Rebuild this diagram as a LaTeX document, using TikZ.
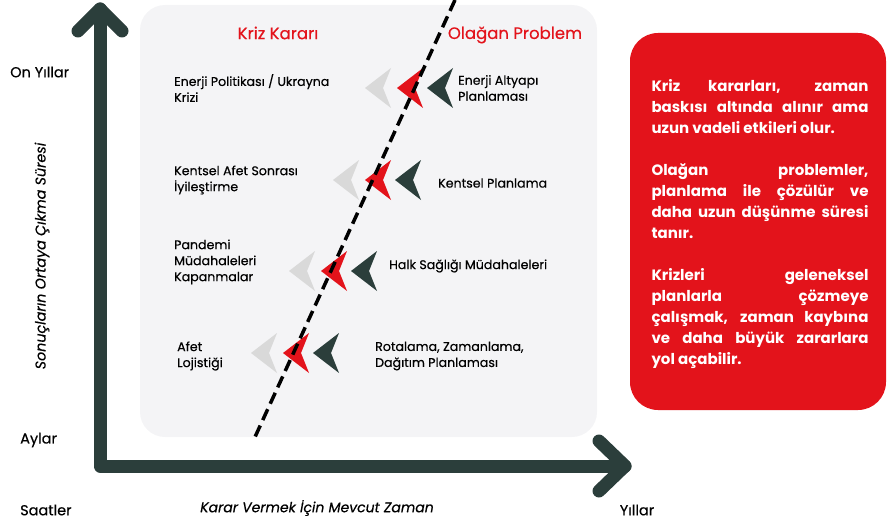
\documentclass[tikz,border=0pt]{standalone}
\usepackage{fontspec}
\setmainfont{Poppins}
\newfontfamily\medfont{Poppins}[FakeBold=0.4]
\usepackage{tikz}
\definecolor{axisdark}{HTML}{2B3E3B}
\definecolor{krizred}{HTML}{E3131B}
\definecolor{panelgray}{HTML}{F4F4F6}
\definecolor{chevgray}{HTML}{D9D9D9}

\begin{document}
\begin{tikzpicture}[x=1pt, y=-1pt]
    \tikzstyle{label} = [inner sep=0pt, font=\medfont\fontsize{12.6}{16}\selectfont, align=left, text=black]
    \tikzstyle{axislabel} = [inner sep=0pt, font=\medfont\fontsize{14.5}{16}\selectfont, text=black]
    \tikzstyle{heading} = [inner sep=0pt, font=\medfont\fontsize{16.5}{18}\selectfont, text=krizred]
    \tikzstyle{axis} = [draw=axisdark, line width=13pt, line cap=round, line join=round]
    \useasboundingbox (0,0) rectangle (887,527);
    % background panel
    \fill[panelgray, rounded corners=25pt] (140,5) rectangle (597,437);
    % axes
    \coordinate (O) at (100,466);
    \coordinate (ytip) at (100,9);
    \coordinate (xtip) at (625,466);
    \draw[axis] (ytip) -- (O) -- (xtip);
    \draw[axis] ([shift={(-22,22)}]ytip) -- (ytip) -- ([shift={(22,22)}]ytip);
    \draw[axis] ([shift={(-26,-25)}]xtip) -- (xtip) -- ([shift={(-26,25)}]xtip);
    % axis texts
    \node[axislabel, anchor=west] (decades) at (10,72) {On Yıllar};
    \node[axislabel, anchor=west] (months) at (20,440) {Aylar};
    \node[axislabel, anchor=west] (hours) at (20,510) {Saatler};
    \node[axislabel] (years) at (637,510) {Yıllar};
    \node[axislabel, rotate=90, font=\medfont\fontsize{14.3}{16}\selectfont\itshape] (ylab) at (42,256) {Sonuçların Ortaya Çıkma Süresi};
    \node[axislabel, font=\medfont\fontsize{14}{16}\selectfont\itshape] (xlab) at (317,508) {Karar Vermek İçin Mevcut Zaman};
    % headings
    \node[heading] (kriz) at (278,33) {Kriz Kararı};
    \node[heading] (olagan) at (515,35) {Olağan Problem};
    % chevrons: gray, red, dark
    \foreach \gx/\ry in {365/88, 333/180, 289/271, 251/353} {
        \fill[chevgray] (\gx,\ry) -- ++(26,-20) -- ++(-8,20) -- ++(8,20) -- cycle;
        \fill[krizred] (\gx+32,\ry) -- ++(26,-20) -- ++(-8,20) -- ++(8,20) -- cycle;
        \fill[axisdark] (\gx+62,\ry) -- ++(26,-20) -- ++(-8,20) -- ++(8,20) -- cycle;
    }
    % dividing line
    \coordinate (ltop) at (455,0);
    \coordinate (lbot) at (255,437);
    \draw[line width=3.5pt, dash pattern=on 12pt off 6pt] (ltop) -- (lbot);
    % row texts
    \node[label, anchor=west] (k1) at (174,88) {Enerji Politikası / Ukrayna\\Krizi};
    \node[label, anchor=west] (k2) at (174,180) {Kentsel Afet Sonrası\\İyileştirme};
    \node[label, anchor=west] (k3) at (174,262) {Pandemi\\Müdahaleleri\\Kapanmalar};
    \node[label, anchor=west] (k4) at (177,356) {Afet\\Lojistiği};
    \node[label, anchor=west] (o1) at (458,88) {Enerji Altyapı\\Planlaması};
    \node[label, anchor=west] (o2) at (438,183) {Kentsel Planlama};
    \node[label, anchor=west] (o3) at (389,266) {Halk Sağlığı Müdahaleleri};
    \node[label, anchor=west] (o4) at (375,356) {Rotalama, Zamanlama,\\Dağıtım Planlaması};
    % note box
    \node[fill=krizred, rounded corners=28pt, minimum width=256pt, minimum height=377pt, text width=217pt, align=justify, text=white, font=\fontsize{15}{21}\selectfont\bfseries] (note) at (758,221.5) {};
    \node[text width=217pt, align=justify, text=white, font=\fontsize{15}{21}\selectfont\bfseries] (notetext) at (760,224) {%
        \hyphenpenalty=10000\relax
        Kriz kararları, zaman\linebreak baskısı altında alınır ama\linebreak uzun vadeli etkileri olur.\par\vspace{21pt}
        Olağan problemler,\linebreak planlama ile çözülür ve\linebreak daha uzun düşünme süresi\linebreak tanır.\par\vspace{21pt}
        Krizleri geleneksel\linebreak planlarla çözmeye\linebreak çalışmak, zaman kaybına\linebreak ve daha büyük zararlara\linebreak yol açabilir.};
\end{tikzpicture}
\end{document}
